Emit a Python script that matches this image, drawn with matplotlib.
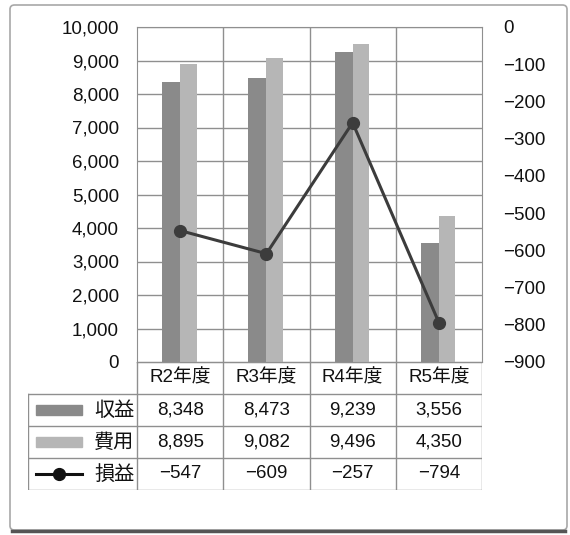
import matplotlib.pyplot as plt
import numpy as np
from matplotlib.patches import Rectangle, FancyBboxPatch

plt.rcParams['font.family'] = ['Liberation Sans', 'Noto Sans CJK JP', 'DejaVu Sans']

# data
years = ['R2年度', 'R3年度', 'R4年度', 'R5年度']
revenue = [8348, 8473, 9239, 3556]
expense = [8895, 9082, 9496, 4350]
profit = [-547, -609, -257, -794]
series_names = ['収益', '費用', '損益']

REV_COLOR = '#8a8a8a'
EXP_COLOR = '#b6b6b6'
LINE_COLOR = '#3c3c3c'
GRID_COLOR = '#8f8f8f'
TEXT_COLOR = '#111111'
FS = 13.5

W, H = 570, 535
fig = plt.figure(figsize=(W / 100, H / 100), dpi=100)

# outer chart border
fig.patches.append(FancyBboxPatch((10 / W, 1 - 530 / H), 557 / W, 525 / H,
                                  boxstyle='round,pad=0,rounding_size=0.008',
                                  transform=fig.transFigure, fill=False,
                                  edgecolor='#a8a8a8', linewidth=1.2))
fig.add_artist(plt.Line2D([12 / W, 565 / W], [1 - 531 / H, 1 - 531 / H],
                          transform=fig.transFigure, color='#555555', linewidth=2.5))

# plot area (pixel box: 137..482 x 27..362)
px_l, px_r, px_t, px_b = 137, 482, 27, 362
ax = fig.add_axes([px_l / W, 1 - px_b / H, (px_r - px_l) / W, (px_b - px_t) / H])
x = np.arange(len(years))
ax.bar(x - 0.1, revenue, width=0.22, color=REV_COLOR, zorder=2)
ax.bar(x + 0.095, expense, width=0.19, color=EXP_COLOR, zorder=2)
ax.set_xlim(-0.5, 3.5)
ax.set_ylim(0, 10000)
ax.set_yticks(np.arange(0, 10001, 1000))
ax.set_yticklabels([f'{v:,}' for v in range(0, 10001, 1000)])
ax.set_xticks([])
ax.grid(axis='y', color=GRID_COLOR, linewidth=1.0, zorder=0)
for xv in [0.5, 1.5, 2.5]:
    ax.axvline(xv, color=GRID_COLOR, linewidth=1.0, zorder=0)
for s in ax.spines.values():
    s.set_color(GRID_COLOR)
ax.tick_params(axis='y', length=0, pad=13, labelsize=FS, labelcolor=TEXT_COLOR)

ax2 = ax.twinx()
ax2.plot(x, profit, color=LINE_COLOR, linewidth=2.2, marker='o', markersize=8.5, zorder=3)
ax2.set_ylim(-900, 0)
ax2.set_yticks(np.arange(-900, 1, 100))
ax2.set_yticklabels([str(v).replace('-', '−') for v in range(-900, 1, 100)])
ax2.tick_params(axis='y', length=0, pad=15, labelsize=FS, labelcolor=TEXT_COLOR)
for s in ax2.spines.values():
    s.set_visible(False)

# data table (pixel box: 28..482 x 362..490)
tb_l, tb_t, tb_b = 28, 362, 490
cat_w = (px_r - px_l) / 4
lab_w = (px_l - tb_l) / cat_w
tax = fig.add_axes([tb_l / W, 1 - tb_b / H, (px_r - tb_l) / W, (tb_b - tb_t) / H])
tax.set_xlim(-0.5 - lab_w, 3.5)
tax.set_ylim(4, 0)
tax.axis('off')

lw = 1.0
tax.plot([-0.5, 3.5], [0, 0], color=GRID_COLOR, lw=lw)
for yv in [1, 2, 3, 4]:
    tax.plot([-0.5 - lab_w, 3.5], [yv, yv], color=GRID_COLOR, lw=lw)
tax.plot([-0.5 - lab_w, -0.5 - lab_w], [1, 4], color=GRID_COLOR, lw=lw)
for xv in [-0.5, 0.5, 1.5, 2.5, 3.5]:
    tax.plot([xv, xv], [0, 4], color=GRID_COLOR, lw=lw)

for i, name in enumerate(years):
    tax.text(i, 0.5, name, ha='center', va='center', fontsize=FS, color=TEXT_COLOR)
rows = [revenue, expense, profit]
for r, vals in enumerate(rows):
    for i, v in enumerate(vals):
        txt = f'{v:,}'.replace('-', '−')
        tax.text(i, r + 1.5, txt, ha='center', va='center', fontsize=FS, color=TEXT_COLOR)
    tax.text(-0.53, r + 1.5, series_names[r], ha='right', va='center', fontsize=FS + 1,
             color=TEXT_COLOR)

# legend keys
k_l = -0.5 - lab_w + 8 / cat_w
k_w = 46 / cat_w
for r, col in enumerate([REV_COLOR, EXP_COLOR]):
    tax.add_patch(Rectangle((k_l, r + 1.5 - 0.16), k_w, 0.32, color=col))
tax.plot([k_l, k_l + k_w], [3.5, 3.5], color='#111111', lw=2.2)
tax.plot([k_l + k_w / 2], [3.5], marker='o', color='#111111', markersize=8.5)

fig.savefig('out.png', dpi=100)
